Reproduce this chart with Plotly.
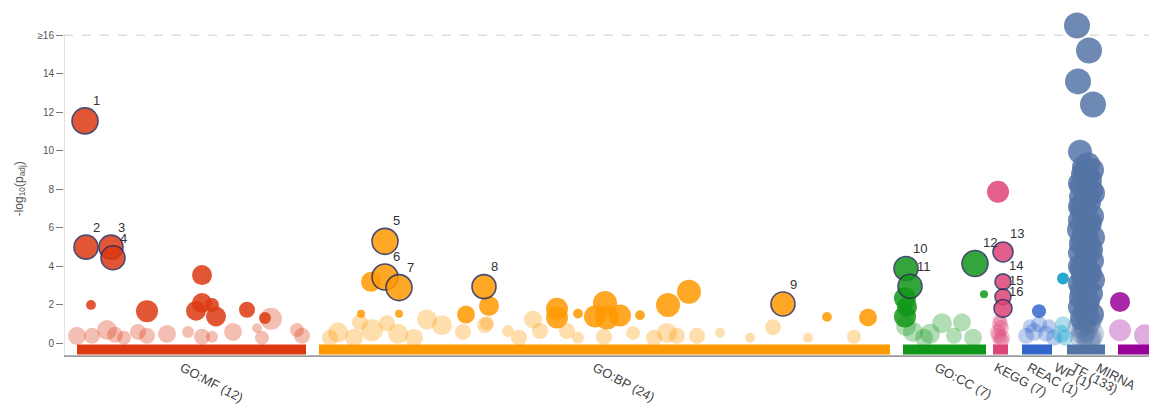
import math
import plotly.graph_objects as go

# ---- data sources (panels along the x axis) ----
SOURCES = ["GO:MF", "GO:BP", "GO:CC", "KEGG", "REAC", "WP", "TF", "MIRNA"]
COUNTS = ["12", "24", "7", "7", "1", "1", "133", ""]
COLORS = ["#dc3912", "#ff9900", "#109618", "#dd4477", "#3366cc", "#0099c6", "#5574a6", "#990099"]
SRC_START = [13, 255, 839, 929, 958, 991, 1003, 1054]
SRC_END = [242, 826, 922, 944, 988, 1001, 1041, 1100]
SRC_BAR = [True, True, True, True, True, False, True, True]

# ---- terms: position along the source, -log10(p_adj), term size, highlight id (0 = none) ----
MF_POS = [21, 22, 47, 49, 138, 27, 83, 138, 132, 148, 152, 183, 201, 207, 233,
          13, 28, 43, 51, 60, 74, 83, 103, 124, 138, 148, 169, 193, 198, 238]
MF_LOGP = [11.55, 5.0, 5.0, 4.45, 3.55, 2.0, 1.68, 2.1, 1.7, 2.0, 1.4, 1.75, 1.32, 1.28, 0.7,
           0.4, 0.4, 0.7, 0.45, 0.3, 0.6, 0.4, 0.5, 0.6, 0.35, 0.35, 0.6, 0.8, 0.3, 0.4]
MF_SIZE = [10000, 4600, 4600, 4600, 1000, 20, 2150, 1000, 1000, 100, 1000, 215, 45, 2150, 100,
           460, 215, 1000, 215, 100, 215, 215, 460, 45, 215, 45, 460, 20, 100, 215]
MF_ID = [1, 2, 3, 4] + [0] * 26

BP_POS = [321, 321, 335, 420, 719, 307, 297, 335, 425, 402, 421, 493, 493, 514, 541, 531, 556, 543,
          576, 604, 625, 763, 804,
          274, 266, 296, 308, 323, 334, 363, 378, 399, 423, 444, 469, 476, 503, 514, 569, 603, 613,
          633, 656, 686, 709, 744, 290, 350, 455, 540, 590, 790]
BP_LOGP = [5.3, 3.45, 2.9, 2.95, 2.05, 3.2, 1.55, 1.55, 1.95, 1.5, 0.95, 1.8, 1.35, 1.55, 2.1, 1.4, 1.45, 1.35,
           1.47, 2.0, 2.68, 1.38, 1.35,
           0.58, 0.3, 1.1, 0.69, 1.05, 0.5, 1.25, 0.95, 0.6, 1.05, 0.65, 1.25, 0.65, 0.65, 0.3, 0.55, 0.55, 0.4,
           0.4, 0.55, 0.3, 0.85, 0.3, 0.3, 0.3, 0.3, 0.35, 0.3, 0.35]
BP_SIZE = [10000, 10000, 10000, 4600, 4600, 1000, 10, 10, 1000, 460, 215, 2150, 2150, 20, 4600, 2150, 2150, 4600,
           20, 4600, 4600, 20, 460,
           1000, 215, 215, 2150, 215, 1000, 1000, 1000, 215, 100, 45, 460, 215, 215, 45, 100, 1000, 215,
           215, 20, 20, 215, 20, 460, 460, 215, 215, 215, 100]
BP_ID = [5, 6, 7, 8, 9] + [0] * 47

CC_POS = [842, 846, 911, 841, 843, 841, 920, 842, 849, 866, 878, 898, 909, 860, 890]
CC_LOGP = [3.89, 2.97, 4.15, 2.35, 1.9, 1.4, 2.56, 0.9, 0.6, 0.5, 1.05, 1.1, 0.3, 0.3, 0.4]
CC_SIZE = [4600, 4600, 10000, 2150, 1000, 2150, 10, 1000, 1000, 1000, 1000, 460, 460, 460, 215]
CC_ID = [10, 11, 12] + [0] * 12

KEGG_POS = [939, 939, 939, 939, 934, 936, 934, 938, 936, 937, 935, 937]
KEGG_LOGP = [4.75, 3.2, 2.42, 1.82, 7.87, 1.0, 0.6, 0.3, 1.2, 0.8, 0.4, 0.15]
KEGG_SIZE = [1000, 215, 215, 460, 2150, 215, 215, 215, 100, 215, 215, 215]
KEGG_ID = [13, 14, 15, 16] + [0] * 8

REAC_POS = [975, 962, 970, 982, 990, 975, 966, 985]
REAC_LOGP = [1.68, 0.4, 0.6, 0.5, 0.3, 1.0, 0.9, 0.9]
REAC_SIZE = [100, 215, 460, 215, 215, 215, 100, 100]
REAC_ID = [0] * 8

WP_POS = [999, 999, 997, 1001]
WP_LOGP = [3.37, 1.0, 0.5, 0.3]
WP_SIZE = [45, 215, 460, 215]
WP_ID = [0] * 4

TF_POS = [1013, 1025, 1014, 1029, 1016,
          1024, 1028, 1019, 1026, 1016, 1022, 1029, 1017, 1025, 1016, 1021, 1028, 1016, 1024, 1015,
          1020, 1029, 1017, 1025, 1016, 1022, 1028, 1016, 1024, 1019, 1029, 1016, 1022, 1027, 1017,
          1024, 1016, 1021, 1028, 1018, 1025, 1016, 1022, 1028, 1018, 1024,
          1020, 1023, 1018, 1027, 1021, 1019, 1026, 1022, 1019, 1027, 1020, 1026, 1021, 1018, 1023,
          1026, 1020, 1019, 1026, 1023, 1018, 1024, 1018, 1023, 1024, 1021]
TF_LOGP = [16.5, 15.2, 13.6, 12.4, 9.95,
           9.3, 9.0, 8.8, 8.5, 8.3, 8.1, 7.8, 7.6, 7.3, 7.1, 6.9, 6.6, 6.4, 6.1, 5.9,
           5.7, 5.5, 5.2, 5.0, 4.7, 4.5, 4.3, 4.0, 3.8, 3.5, 3.3, 3.1, 2.9, 2.6, 2.4,
           2.2, 1.9, 1.7, 1.5, 1.3, 1.1, 0.9, 0.7, 0.5, 0.3, 0.15,
           9.15, 8.65, 8.2, 7.95, 7.45, 6.75, 6.25, 5.6, 5.35, 4.85, 4.15, 3.65, 3.2, 2.75, 2.05,
           1.2, 1.0, 0.6, 0.25, 1.45, 3.9, 5.25, 7.0, 6.0, 7.7, 8.9]
TF_SIZE = [10000, 10000, 10000, 10000, 4600] + [4600] * 41 + [4600] * 26
TF_ID = [0] * 72

MIRNA_POS = [1056, 1056, 1081]
MIRNA_LOGP = [2.16, 0.69, 0.43]
MIRNA_SIZE = [1000, 2150, 2150]
MIRNA_ID = [0, 0, 0]

TERMS = [
    (MF_POS, MF_LOGP, MF_SIZE, MF_ID),
    (BP_POS, BP_LOGP, BP_SIZE, BP_ID),
    (CC_POS, CC_LOGP, CC_SIZE, CC_ID),
    (KEGG_POS, KEGG_LOGP, KEGG_SIZE, KEGG_ID),
    (REAC_POS, REAC_LOGP, REAC_SIZE, REAC_ID),
    (WP_POS, WP_LOGP, WP_SIZE, WP_ID),
    (TF_POS, TF_LOGP, TF_SIZE, TF_ID),
    (MIRNA_POS, MIRNA_LOGP, MIRNA_SIZE, MIRNA_ID),
]

Y_TICKS = [0, 2, 4, 6, 8, 10, 12, 14, 16]
Y_TICK_TEXT = ["0", "2", "4", "6", "8", "10", "12", "14", "≥16"]

SIG_THRESHOLD = 1.3          # -log10(0.05)
FONT = "Arial, Liberation Sans, sans-serif"
HL_STROKE = "#2b2c5c"

# plot area geometry (pixels)
MARGIN_T, MARGIN_B, HEIGHT = 12, 52, 409
PLOT_H = HEIGHT - MARGIN_T - MARGIN_B


def diameter(term_size):
    return 2 + 6 * math.log10(term_size)


def paper_y(px):
    return (HEIGHT - MARGIN_B - px) / PLOT_H


fig = go.Figure()
annotations = []

for (pos, logp, size, ids), color in zip(TERMS, COLORS):
    pts = list(zip(pos, logp, size, ids))
    # faded (non-significant) first, then significant, then highlighted on top
    pts.sort(key=lambda p: (p[3] > 0, p[1] >= SIG_THRESHOLD))
    xs = [p[0] for p in pts]
    ys = [p[1] for p in pts]
    ds = [diameter(p[2]) for p in pts]
    op = [0.85 if (p[1] >= SIG_THRESHOLD or p[3] > 0) else 0.32 for p in pts]
    lw = [1.6 if p[3] > 0 else 0 for p in pts]
    fig.add_trace(go.Scatter(
        x=xs, y=ys, mode="markers", cliponaxis=False, showlegend=False,
        hoverinfo="skip",
        marker=dict(size=ds, color=color, opacity=op,
                    line=dict(width=lw, color=HL_STROKE)),
    ))
    for p, d in zip(pts, ds):
        if p[3] > 0:
            r = d / 2
            annotations.append(dict(
                x=p[0], y=p[1], xref="x", yref="y", text=str(p[3]),
                showarrow=False, xanchor="left", yanchor="bottom",
                xshift=0.45 * r, yshift=0.85 * r,
                font=dict(family=FONT, size=13, color="#333333"),
            ))

shapes = []
# source bars along the bottom
for s0, s1, color, bar in zip(SRC_START, SRC_END, COLORS, SRC_BAR):
    if bar:
        shapes.append(dict(type="rect", xref="x", yref="y", x0=s0, x1=s1, y0=-0.05, y1=-0.57,
                           fillcolor=color, line=dict(width=0), layer="below"))
# baseline and y axis line
shapes.append(dict(type="line", xref="x", yref="y", x0=-1, x1=1085, y0=-0.66, y1=-0.66,
                   line=dict(color="#9a9a9a", width=2), layer="above"))
shapes.append(dict(type="line", xref="x", yref="y", x0=-0.5, x1=-0.5, y0=-0.66, y1=16,
                   line=dict(color="#8a8a8a", width=1.5), layer="above"))
# cap line at 16
shapes.append(dict(type="line", xref="x", yref="y", x0=0, x1=1085, y0=16, y1=16,
                   line=dict(color="#cccccc", width=1, dash="dash"), layer="below"))

# rotated source labels beneath the bars
LABEL_X = [111, 524, 865, 925, 958, 985, 1003, 1027]
for name, cnt, lx in zip(SOURCES, COUNTS, LABEL_X):
    txt = f"{name} ({cnt})" if cnt else name
    annotations.append(dict(
        x=lx, y=paper_y(357), xref="x", yref="paper", text=txt, showarrow=False,
        textangle=28, xanchor="left", yanchor="top",
        font=dict(family=FONT, size=13, color="#444444"),
    ))

# y axis title
annotations.append(dict(
    x=-44 / 1085, y=8.05, xref="paper", yref="y",
    text="-log<sub>10</sub>(p<sub>adj</sub>)", showarrow=False, textangle=-90,
    xanchor="center", yanchor="middle",
    font=dict(family=FONT, size=12, color="#555555"),
))

fig.update_layout(
    width=1149, height=HEIGHT,
    margin=dict(l=64, r=0, t=MARGIN_T, b=MARGIN_B),
    paper_bgcolor="white", plot_bgcolor="white",
    shapes=shapes, annotations=annotations,
    xaxis=dict(range=[0, 1085], visible=False, fixedrange=True),
    yaxis=dict(range=[-0.7, 17.2], tickvals=Y_TICKS, ticktext=Y_TICK_TEXT,
               showgrid=False, zeroline=False, showline=False,
               ticks="outside", ticklen=7, tickcolor="#777777", tickwidth=1,
               tickfont=dict(family=FONT, size=10, color="#555555")),
)

fig.write_html("out.html")
